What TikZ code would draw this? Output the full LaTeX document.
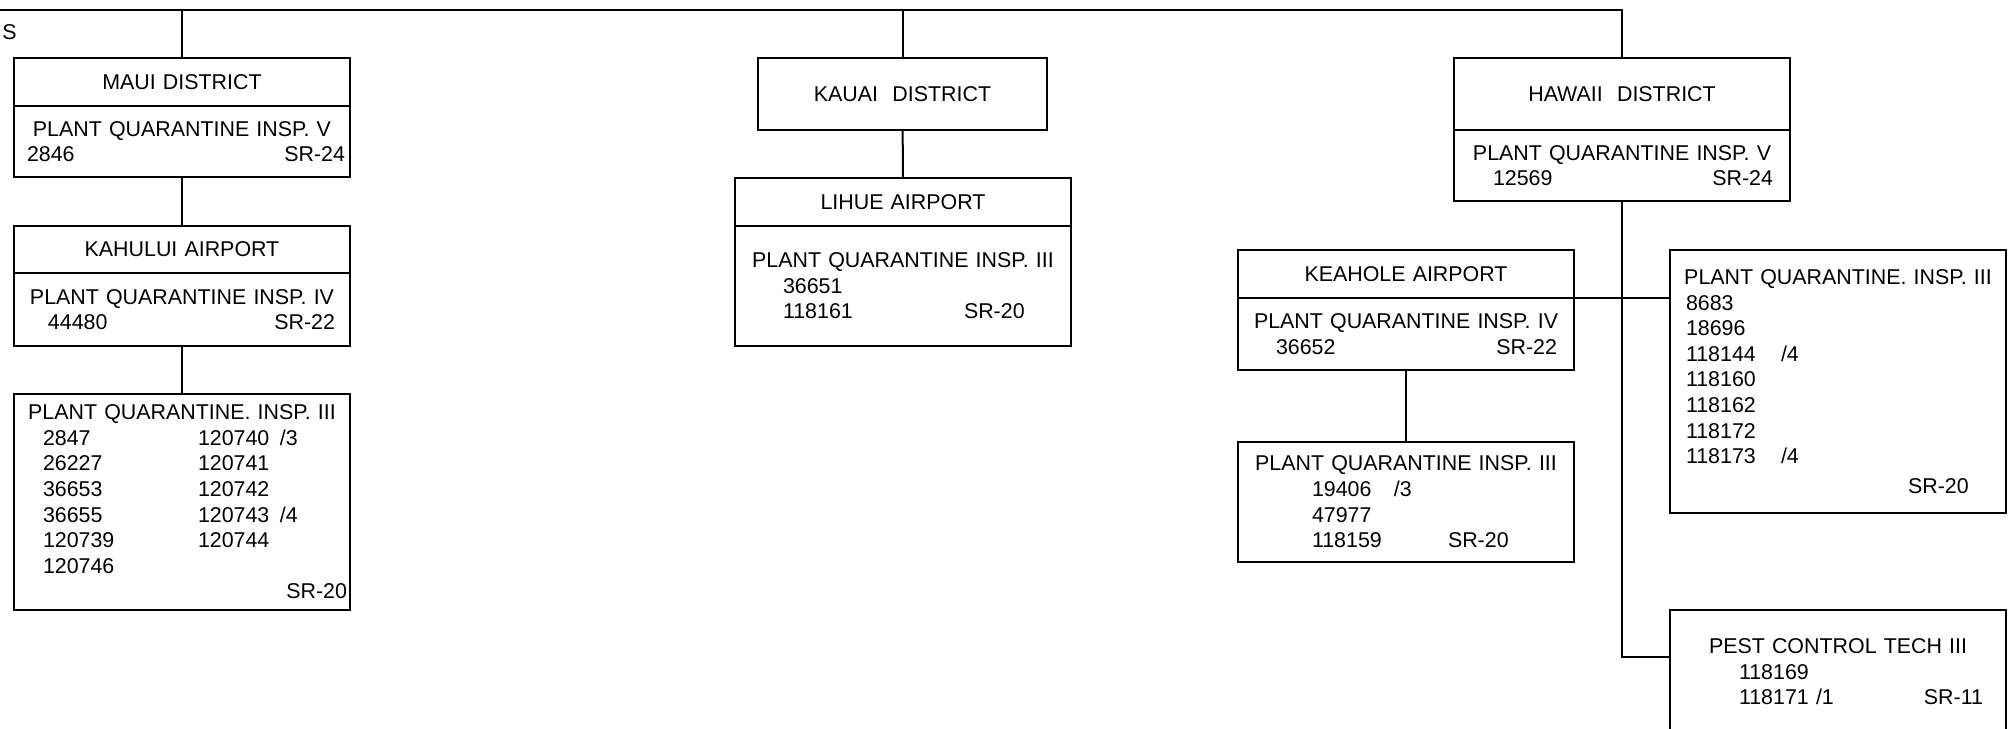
\documentclass[tikz,border=0pt]{standalone}
\usepackage{fontspec}
\setmainfont{Liberation Sans}
\usepackage{tikz}
\usetikzlibrary{
    positioning
}

\newcommand{\tline}[1]{\makebox[\hsize]{#1}}
\newcommand{\lrline}[4]{\makebox[\hsize][l]{\hspace*{#1}#2\hfill#3\hspace*{#4}}}
\newcommand{\cell}[2]{\makebox[#1][l]{#2}}

\begin{document}
\begin{tikzpicture}[
        x=0.5pt, y=-0.5pt,
        box/.style={
            draw,
            line width=1.2pt,
            outer sep=0pt,
            inner sep=0pt,
            minimum width=168pt,
            text width=168pt,
            align=left,
            font=\fontsize{10.7}{12.8}\selectfont
        },
        head/.style={
            box,
            align=center
        },
        link/.style={line width=1pt}
    ]
        \useasboundingbox (0,0) rectangle (2016,728);
        \clip (0,0) rectangle (2016,728);

        \coordinate (topL) at (0,10);
        \node[anchor=west, inner sep=0pt, font=\fontsize{10.7}{12.8}\selectfont] (cutS) at (2,32) {S};

        % Maui
        \node[head, minimum height=24pt, anchor=north west] (mauiH) at (14,58) {MAUI DISTRICT};
        \node[box, minimum height=35.5pt, below=0pt of mauiH] (mauiB) {%
            \tline{PLANT QUARANTINE INSP. V}\\
            \lrline{6.5pt}{2846}{SR-24}{2.5pt}};
        \node[head, minimum height=23.5pt, anchor=north west] (kahuluiH) at (14,226) {KAHULUI AIRPORT};
        \node[box, minimum height=36.5pt, below=0pt of kahuluiH] (kahuluiB) {%
            \tline{PLANT QUARANTINE INSP. IV}\\
            \lrline{17pt}{44480}{SR-22}{7.5pt}};
        \node[box, minimum height=108pt, anchor=north west] (mauiPQ) at (14,394) {%
            \tline{PLANT QUARANTINE. INSP. III}\\
            \hspace*{14.5pt}\cell{77.5pt}{2847}\cell{41pt}{120740}/3\\
            \hspace*{14.5pt}\cell{77.5pt}{26227}120741\\
            \hspace*{14.5pt}\cell{77.5pt}{36653}120742\\
            \hspace*{14.5pt}\cell{77.5pt}{36655}\cell{41pt}{120743}/4\\
            \hspace*{14.5pt}\cell{77.5pt}{120739}120744\\
            \hspace*{14.5pt}120746\\
            \lrline{0pt}{}{SR-20}{1.5pt}};

        % Kauai
        \node[head, minimum width=144.5pt, text width=144.5pt, minimum height=36pt, anchor=north west] (kauai) at (758,58) {KAUAI\ \ DISTRICT};
        \node[head, minimum height=24pt, anchor=north west] (lihueH) at (735,178) {LIHUE AIRPORT};
        \node[box, minimum height=60pt, below=0pt of lihueH] (lihueB) {%
            \tline{PLANT QUARANTINE INSP. III}\\
            \hspace*{24pt}36651\\
            \hspace*{24pt}\cell{90.5pt}{118161}SR-20};

        % Hawaii
        \node[head, minimum height=36pt, anchor=north west] (hawaiiH) at (1454,58) {HAWAII\ \ DISTRICT};
        \node[box, minimum height=35.5pt, below=0pt of hawaiiH] (hawaiiB) {%
            \tline{PLANT QUARANTINE INSP. V}\\
            \lrline{19.5pt}{12569}{SR-24}{8.5pt}};
        \node[head, minimum height=24pt, anchor=north west] (keaholeH) at (1238,250) {KEAHOLE AIRPORT};
        \node[box, minimum height=36pt, below=0pt of keaholeH] (keaholeB) {%
            \tline{PLANT QUARANTINE INSP. IV}\\
            \lrline{19pt}{36652}{SR-22}{8.5pt}};
        \node[box, minimum height=60pt, anchor=north west] (keaholePQ) at (1238,442) {%
            \tline{PLANT QUARANTINE INSP. III}\\
            \hspace*{37pt}\cell{41pt}{19406}/3\\
            \hspace*{37pt}47977\\
            \hspace*{37pt}\cell{68pt}{118159}SR-20};
        \node[box, minimum height=131.5pt, anchor=north west] (hiloPQ) at (1670,250) {%
            \tline{PLANT QUARANTINE. INSP. III}\\
            \hspace*{8pt}8683\\
            \hspace*{8pt}18696\\
            \hspace*{8pt}\cell{47.5pt}{118144}/4\\
            \hspace*{8pt}118160\\
            \hspace*{8pt}118162\\
            \hspace*{8pt}118172\\
            \hspace*{8pt}\cell{47.5pt}{118173}/4\\[2pt]
            \hspace*{119pt}SR-20};
        \node[box, minimum height=62pt, anchor=north west] (pest) at (1670,610) {%
            \tline{PEST CONTROL TECH III}\\
            \hspace*{34.5pt}118169\\
            \lrline{34.5pt}{\cell{38.5pt}{118171}/1}{SR-11}{11.5pt}};

        % connectors
        \draw[link] (topL) -| (hawaiiH.north);
        \draw[link] (mauiH.north) -- (mauiH.north |- topL);
        \draw[link] (kauai.north) -- (kauai.north |- topL);
        \draw[link] (mauiB) -- (kahuluiH);
        \draw[link] (kahuluiB) -- (mauiPQ);
        \draw[link] (kauai) -- (lihueH);
        \draw[link] (keaholeB) -- (keaholePQ);
        \draw[link] (keaholeH.south east) -- (keaholeH.south east -| hiloPQ.west);
        \draw[link] (hawaiiB.south) |- ([yshift=-23.5pt]pest.north west);
    \end{tikzpicture}
\end{document}
